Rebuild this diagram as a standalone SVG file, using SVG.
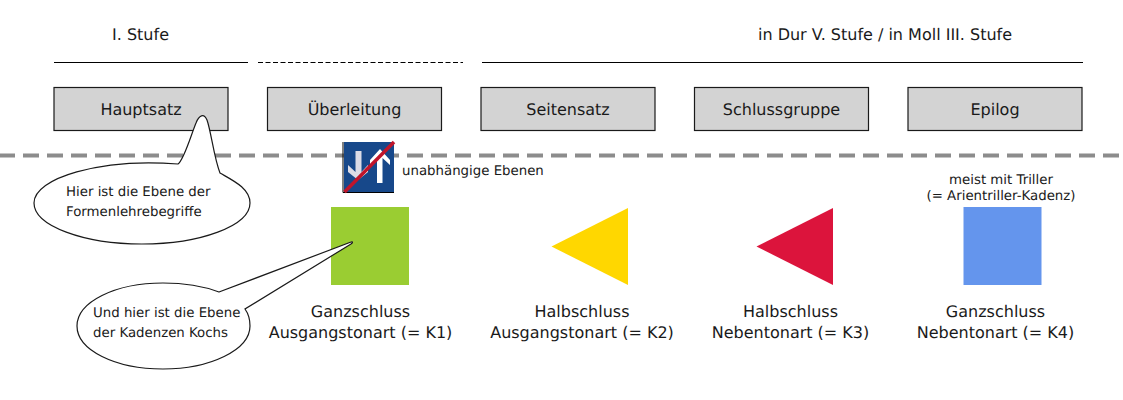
<svg xmlns="http://www.w3.org/2000/svg" width="1123" height="400" viewBox="0 0 1123 400">
<style>
text{font-family:"DejaVu Sans",sans-serif;fill:#1a1a1a;text-anchor:middle;text-rendering:geometricPrecision}
.s{font-size:16px}
.m{font-size:13.330px}
.l{text-anchor:start}
.box{fill:#d3d3d3;stroke:#1a1a1a;stroke-width:1.2}
.rule{stroke:#000;stroke-width:1.2;fill:none}
.bub{fill:#fff;stroke:#1a1a1a;stroke-width:1.2}
</style>
<rect width="1123" height="400" fill="#fff"/>
<g id="connectors">
<path class="rule" d="M54 62.500H248"/>
<path class="rule" d="M258 62.500H463" stroke-dasharray="5 2.500"/>
<path class="rule" d="M482 62.500H1083"/>
<path d="M-1 155.500H1123" fill="none" stroke="#8c8c8c" stroke-width="4" stroke-dasharray="16 8"/>
</g>
<g id="label-stufe-1"><text class="s" x="140.500" y="40">I. Stufe</text></g>
<g id="label-stufe-5"><text class="s" x="885" y="40">in Dur V. Stufe / in Moll III. Stufe</text></g>
<g id="hauptsatz"><rect class="box" x="54" y="87.500" width="174" height="43"/><text class="s" x="141" y="115">Hauptsatz</text></g>
<g id="ueberleitung"><rect class="box" x="267.500" y="87.500" width="174" height="43"/><text class="s" x="354.500" y="115">Überleitung</text></g>
<g id="seitensatz"><rect class="box" x="481" y="87.500" width="174" height="43"/><text class="s" x="568" y="115">Seitensatz</text></g>
<g id="schlussgruppe"><rect class="box" x="694.500" y="87.500" width="174" height="43"/><text class="s" x="781.500" y="115">Schlussgruppe</text></g>
<g id="epilog"><rect class="box" x="908" y="87.500" width="174" height="43"/><text class="s" x="995" y="115">Epilog</text></g>
<g id="sign">
<path d="M343 142V192.500H394" fill="none" stroke="#000" stroke-width="1"/>
<rect x="344" y="142" width="50" height="50" fill="#17488a"/>
<path d="M355.500 151H361.500V174L358 180L348 172V165L355.500 172Z" fill="#dcdce6"/>
<path d="M361.500 172L368 165V172L358 180Z" fill="#fff"/>
<path d="M380 149L390 160V165L382.500 158V183H377V158L370 165V160Z" fill="#fff"/>
<path d="M344.500 192L394 142" stroke="#c0152b" stroke-width="3.500" fill="none"/>
</g>
<g id="label-ebenen"><text class="m l" x="402" y="175">unabhängige Ebenen</text></g>
<g id="bubble-1">
<path class="bub" d="M178 164C184 160 191 135 196 123C199 115 204 113 207 120C211 131 214 158 220 173C232 180 250 188 250 203C250 226 200 244 142 244C84 244 34 226 34 203C34 178 100 158 178 164Z"/>
<text class="m l" x="66" y="196">Hier ist die Ebene der</text>
<text class="m l" x="66" y="216">Formenlehrebegriffe</text>
</g>
<g id="k1"><rect x="331" y="207" width="78" height="78" fill="#9acd32"/>
<text class="s" x="360.500" y="317">Ganzschluss</text><text class="s" x="360.500" y="338">Ausgangstonart (= K1)</text></g>
<g id="bubble-2">
<path class="bub" d="M219 292L351 242C353 241 353 243 351 244L245 309C250 316 250 322 250 326C250 350 210 369 163 369C115 369 77 350 77 326C77 302 115 283 163 283C186 283 203 286 219 292Z"/>
<text class="m l" x="93" y="317">Und hier ist die Ebene</text>
<text class="m l" x="93" y="337">der Kadenzen Kochs</text>
</g>
<g id="k2"><path d="M628 208V285L551.500 246.500Z" fill="#ffd700"/>
<text class="s" x="582" y="317">Halbschluss</text><text class="s" x="582" y="338">Ausgangstonart (= K2)</text></g>
<g id="k3"><path d="M833 208V285L756.500 246.500Z" fill="#dc143c"/>
<text class="s" x="790.500" y="317">Halbschluss</text><text class="s" x="790.500" y="338">Nebentonart (= K3)</text></g>
<g id="k4"><rect x="963.500" y="207" width="78" height="78" fill="#6495ed"/>
<text class="s" x="995.500" y="317">Ganzschluss</text><text class="s" x="995.500" y="338">Nebentonart (= K4)</text></g>
<g id="label-triller"><text class="m" x="1001" y="184">meist mit Triller</text><text class="m" x="1001" y="200">(= Arientriller-Kadenz)</text></g>
</svg>
